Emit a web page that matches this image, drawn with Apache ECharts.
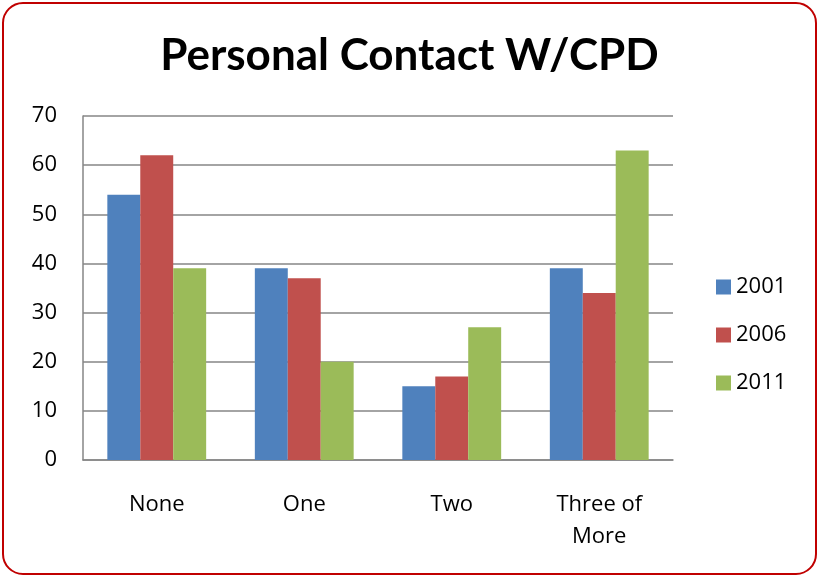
<!DOCTYPE html>
<html>
<head>
<meta charset="utf-8">
<script src="https://cdn.jsdelivr.net/npm/echarts@6/dist/echarts.min.js"></script>
<style>
html,body{margin:0;padding:0;background:#fff;}
#c{width:819px;height:577px;}
</style>
</head>
<body>
<div id="c"></div>
<script>
var categories = ['None', 'One', 'Two', 'Three of\nMore'];
var seriesNames = ['2001', '2006', '2011'];
var values2001 = [54, 39, 15, 39];
var values2006 = [62, 37, 17, 34];
var values2011 = [39, 20, 27, 63];
var colors = ['#4F81BD', '#C0504D', '#9BBB59'];
var yMin = 0, yMax = 70, yStep = 10;

var chart = echarts.init(document.getElementById('c'), null, {renderer: 'canvas'});
var allValues = [values2001, values2006, values2011];
var series = seriesNames.map(function (n, i) {
  return {
    name: n,
    type: 'bar',
    data: allValues[i],
    barGap: '0%',
    barCategoryGap: '33%',
    itemStyle: {color: colors[i]},
    emphasis: {disabled: true}
  };
});
chart.setOption({
  animation: false,
  backgroundColor: '#fff',
  textStyle: {fontFamily: 'Open Sans'},
  graphic: [{
    type: 'rect',
    shape: {x: 3, y: 3, width: 813, height: 571, r: 20},
    style: {fill: 'none', stroke: '#C00000', lineWidth: 2},
    silent: true,
    z: 100
  }],
  title: {
    text: 'Personal Contact W/CPD',
    left: 'center',
    top: 29,
    textStyle: {fontFamily: 'Lato', fontWeight: 'bold', fontSize: 44, color: '#000'}
  },
  legend: {
    orient: 'vertical',
    left: 711,
    top: 271,
    itemWidth: 15,
    itemHeight: 15,
    itemGap: 26,
    icon: 'rect',
    textStyle: {fontFamily: 'Open Sans', fontSize: 22, color: '#000'},
    data: seriesNames
  },
  grid: {left: 83, right: 146, top: 116, bottom: 117, containLabel: false},
  xAxis: {
    type: 'category',
    data: categories,
    axisLine: {lineStyle: {color: '#868686', width: 1.5}},
    axisTick: {show: false},
    axisLabel: {fontFamily: 'Open Sans', fontSize: 22, color: '#000', margin: 29, lineHeight: 32, interval: 0}
  },
  yAxis: {
    type: 'value',
    min: yMin,
    max: yMax,
    interval: yStep,
    axisLine: {show: true, lineStyle: {color: '#868686', width: 1.5}},
    axisTick: {show: false},
    splitLine: {lineStyle: {color: '#868686', width: 1.5}},
    axisLabel: {fontFamily: 'Open Sans', fontSize: 22, color: '#000', margin: 26}
  },
  series: series
});
</script>
</body>
</html>
